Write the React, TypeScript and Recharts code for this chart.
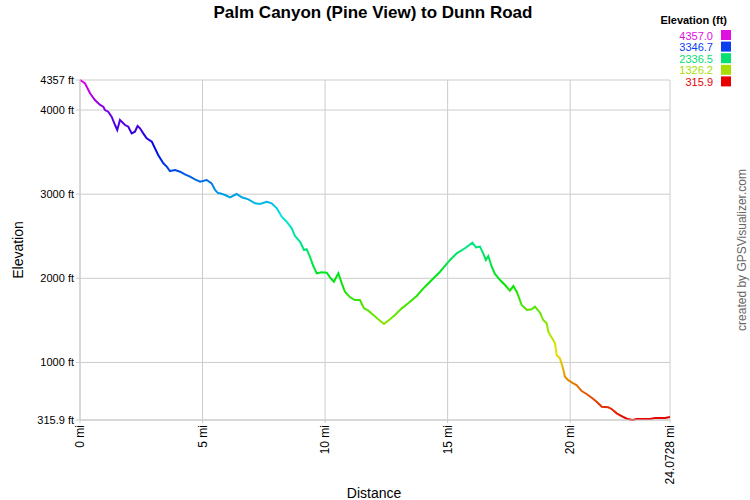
import { LineChart, Line, XAxis, YAxis, CartesianGrid } from 'recharts';

const distanceMi = [
    0, 0.2, 0.41, 0.61, 0.82, 0.95, 1.02, 1.15, 1.29, 1.43, 1.52, 1.63, 1.84, 1.97, 2.11, 2.24, 2.35, 2.45, 2.58, 2.72,
    2.93, 3.06, 3.19, 3.4, 3.54, 3.67, 3.88, 4.08, 4.28, 4.49, 4.69, 4.9, 5.17, 5.37, 5.51, 5.64, 5.71, 5.92, 6.12, 6.39,
    6.6, 6.87, 7.14, 7.34, 7.62, 7.82, 8.03, 8.23, 8.43, 8.64, 8.77, 8.98, 9.14, 9.25, 9.38, 9.52, 9.66, 9.86, 10.07, 10.2,
    10.36, 10.54, 10.68, 10.81, 11.02, 11.22, 11.42, 11.59, 11.76, 11.97, 12.17, 12.4, 12.65, 12.85, 13.13, 13.39, 13.74, 14.01, 14.28, 14.69,
    15.1, 15.37, 15.71, 16.01, 16.16, 16.32, 16.45, 16.56, 16.66, 16.8, 16.93, 17.14, 17.34, 17.54, 17.68, 17.82, 18.02, 18.23, 18.43, 18.56,
    18.77, 18.9, 19.04, 19.11, 19.18, 19.31, 19.38, 19.45, 19.58, 19.69, 19.79, 19.92, 20.13, 20.26, 20.47, 20.67, 20.88, 21.08, 21.29, 21.55,
    21.69, 21.9, 22.1, 22.31, 22.55, 22.71, 23.26, 23.46, 23.87, 24.0728,
];

const elevationFt = [
    4357, 4318, 4199, 4119, 4060, 4040, 4000, 3980, 3921, 3822, 3763, 3882, 3822, 3802, 3723, 3742, 3810, 3783, 3723, 3664,
    3624, 3545, 3466, 3367, 3327, 3275, 3287, 3267, 3236, 3208, 3177, 3148, 3168, 3129, 3050, 3010, 3010, 2990, 2963, 3002,
    2963, 2939, 2891, 2883, 2910, 2891, 2832, 2732, 2673, 2594, 2503, 2435, 2336, 2345, 2257, 2146, 2059, 2072, 2067, 2012,
    1960, 2059, 1941, 1841, 1774, 1742, 1742, 1643, 1615, 1564, 1513, 1457, 1513, 1564, 1643, 1703, 1790, 1881, 1960, 2078,
    2218, 2297, 2357, 2423, 2368, 2376, 2297, 2218, 2265, 2138, 2051, 1979, 1920, 1853, 1908, 1841, 1683, 1623, 1632, 1663,
    1591, 1504, 1465, 1365, 1326, 1267, 1227, 1088, 1049, 949, 830, 790, 752, 732, 660, 625, 581, 533, 474, 467,
    447, 395, 363, 331, 315.9, 328, 328, 340, 340, 352,
];

const xTicks = [0, 5, 10, 15, 20, 24.0728];
const yTicks = [315.9, 1000, 2000, 3000, 4000, 4357];

const legendValues = ['4357.0', '3346.7', '2336.5', '1326.2', '315.9'];
const legendColors = ['#e010e0', '#0a3ff0', '#05e070', '#a8dd00', '#e80000'];

const chartData = distanceMi.map((d, i) => ({ dist: d, elev: elevationFt[i] }));

const FONT = '"Liberation Sans", Arial, sans-serif';

const XTick = (props: any) => {
    const { x, y, payload } = props;
    return (
        <text
            x={x}
            y={y}
            transform={`rotate(-90, ${x}, ${y})`}
            textAnchor="end"
            dominantBaseline="central"
            fontSize={12}
            fontFamily={FONT}
            fill="#000"
        >
            {payload.value} mi
        </text>
    );
};

export default function App() {
    // hue runs from magenta at the top of the range down to red at the bottom
    const stops = Array.from({ length: 11 }, (_, i) => i / 10);

    return (
        <div style={{ position: 'absolute', left: 0, top: 0, width: 750, height: 500, background: '#fff' }}>
            <LineChart
                width={750}
                height={500}
                data={chartData}
                margin={{ top: 80, right: 80, bottom: 0, left: 0 }}
            >
                <defs>
                    <linearGradient id="elevGrad" x1="0" y1="0" x2="0" y2="1">
                        {stops.map((s) => (
                            <stop key={s} offset={s} stopColor={`hsl(${300 - s * 300}, 100%, 45%)`} />
                        ))}
                    </linearGradient>
                </defs>
                <CartesianGrid stroke="#cccccc" strokeWidth={1} />
                <XAxis
                    dataKey="dist"
                    type="number"
                    domain={[0, 24.0728]}
                    ticks={xTicks}
                    interval={0}
                    height={80}
                    tick={<XTick />}
                    tickSize={3}
                    tickLine={{ stroke: '#cccccc' }}
                    axisLine={{ stroke: '#cccccc' }}
                />
                <YAxis
                    type="number"
                    domain={[315.9, 4357]}
                    ticks={yTicks}
                    interval={0}
                    width={80}
                    tickSize={4}
                    tickFormatter={(v: number) => `${v} ft`}
                    tick={{ fontSize: 11, fontFamily: FONT, fill: '#000' }}
                    tickLine={{ stroke: '#cccccc' }}
                    axisLine={{ stroke: '#cccccc' }}
                />
                <Line
                    type="linear"
                    dataKey="elev"
                    stroke="url(#elevGrad)"
                    strokeWidth={2}
                    dot={false}
                    isAnimationActive={false}
                />
            </LineChart>
            <svg
                width={750}
                height={500}
                style={{ position: 'absolute', left: 0, top: 0, pointerEvents: 'none' }}
                fontFamily={FONT}
            >
                <text x={373} y={18} textAnchor="middle" fontSize={17} fontWeight="bold">
                    Palm Canyon (Pine View) to Dunn Road
                </text>
                <text x={727} y={24} textAnchor="end" fontSize={11} fontWeight="bold">
                    Elevation (ft)
                </text>
                {legendValues.map((v, i) => (
                    <g key={v}>
                        <text x={713} y={39.5 + i * 11.6} textAnchor="end" fontSize={11} fill={legendColors[i]}>
                            {v}
                        </text>
                        <rect x={721} y={30 + i * 11.6} width={10} height={10} fill={legendColors[i]} />
                    </g>
                ))}
                <text x={23} y={250} textAnchor="middle" fontSize={14} transform="rotate(-90, 23, 250)">
                    Elevation
                </text>
                <text x={374} y={498} textAnchor="middle" fontSize={14}>
                    Distance
                </text>
                <text x={746} y={250} textAnchor="middle" fontSize={12} fill="#666" transform="rotate(-90, 746, 250)">
                    created by GPSVisualizer.com
                </text>
            </svg>
        </div>
    );
}
